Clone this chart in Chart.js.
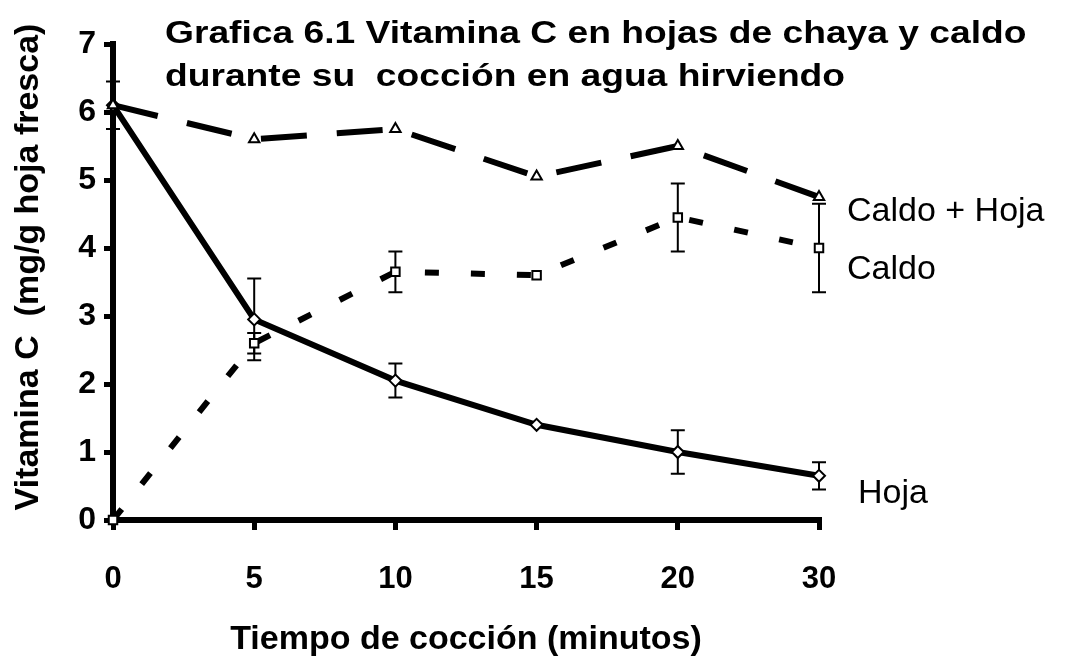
<!DOCTYPE html>
<html>
<head>
<meta charset="utf-8">
<script src="https://cdn.jsdelivr.net/npm/chart.js@4.4.1/dist/chart.umd.min.js"></script>
<style>
  html, body { margin: 0; padding: 0; background: #fff; }
  #wrap { width: 1069px; height: 666px; }
</style>
</head>
<body>
<div id="wrap"><canvas id="chart" width="1069" height="666"></canvas></div>
<script>
// ====== Data ======
const tiempos   = ['0', '5', '10', '15', '20', '30'];
const hoja      = [6.1, 2.95, 2.05, 1.4, 1.0, 0.65];
const hojaErr   = [0.35, 0.6, 0.25, 0, 0.32, 0.2];
const caldo     = [0, 2.6, 3.65, 3.6, 4.45, 4.0];
const caldoErr  = [0, 0.15, 0.3, 0, 0.5, 0.65];
const caldoHoja = [6.1, 5.6, 5.75, 5.05, 5.5, 4.75];
const titulo    = ['Grafica 6.1 Vitamina C en hojas de chaya y caldo', 'durante su  cocción en agua hirviendo'];
const yTitulo   = 'Vitamina C  (mg/g hoja fresca)';

const FONT = '"Liberation Sans", Arial, Helvetica, sans-serif';

// ====== Plugins ======
// error bars, drawn under the markers
const errorBars = {
  id: 'errorBars',
  beforeDatasetsDraw(chart){
    const ctx = chart.ctx, y = chart.scales.y;
    chart.data.datasets.forEach((ds, i) => {
      if(!ds.err) return;
      const meta = chart.getDatasetMeta(i);
      ds.err.forEach((e, j) => {
        if(!e) return;
        const px = meta.data[j].x;
        const top = y.getPixelForValue(ds.data[j] + e);
        const bot = y.getPixelForValue(ds.data[j] - e);
        ctx.save();
        ctx.strokeStyle = '#000'; ctx.lineWidth = 2;
        ctx.beginPath();
        ctx.moveTo(px, top); ctx.lineTo(px, bot);
        ctx.moveTo(px - 7, top); ctx.lineTo(px + 7, top);
        ctx.moveTo(px - 7, bot); ctx.lineTo(px + 7, bot);
        ctx.stroke();
        ctx.restore();
      });
    });
  }
};

// series names next to the last point
const endLabels = {
  id: 'endLabels',
  afterDatasetsDraw(chart){
    const ctx = chart.ctx;
    ctx.save();
    ctx.font = '34px ' + FONT;
    ctx.fillStyle = '#000';
    ctx.textBaseline = 'middle';
    chart.data.datasets.forEach((ds, i) => {
      const pts = chart.getDatasetMeta(i).data;
      const last = pts[pts.length - 1];
      ctx.fillText(ds.label, last.x + ds.labelOffset[0], last.y + ds.labelOffset[1]);
    });
    ctx.restore();
  }
};

// scanned title is wide, so stretch it a bit sideways
const titles = {
  id: 'titles',
  afterDraw(chart){
    const ctx = chart.ctx;
    ctx.save();
    ctx.fillStyle = '#000';
    ctx.font = 'bold 31px ' + FONT;
    titulo.forEach((t, i) => {
      ctx.save();
      ctx.translate(165, 43 + i * 43);
      ctx.scale(1.2, 1);
      ctx.fillText(t, 0, 0);
      ctx.restore();
    });
    // y axis title
    ctx.font = 'bold 34px ' + FONT;
    ctx.translate(38, 267);
    ctx.rotate(-Math.PI / 2);
    ctx.textAlign = 'center';
    ctx.fillText(yTitulo, 0, 0);
    ctx.restore();
  }
};

// ====== Chart ======
const axisGrid = { display: true, drawOnChartArea: false, drawTicks: true, lineWidth: 5, color: '#000' };

new Chart(document.getElementById('chart'), {
  type: 'line',
  data: {
    labels: tiempos,
    datasets: [
      { label: 'Caldo + Hoja', data: caldoHoja, labelOffset: [28, 15],
        borderColor: '#000', borderWidth: 6, borderDash: [46, 30],
        pointStyle: 'triangle', pointRadius: 6, pointBorderWidth: 2,
        pointBackgroundColor: '#fff', pointBorderColor: '#000', clip: false },
      { label: 'Caldo', data: caldo, err: caldoErr, labelOffset: [28, 22],
        borderColor: '#000', borderWidth: 6, borderDash: [14, 32],
        pointStyle: 'rect', pointRadius: 6, pointBorderWidth: 2,
        pointBackgroundColor: '#fff', pointBorderColor: '#000', clip: false },
      { label: 'Hoja', data: hoja, err: hojaErr, labelOffset: [39, 18],
        borderColor: '#000', borderWidth: 6,
        pointStyle: 'rectRot', pointRadius: 6, pointBorderWidth: 2,
        pointBackgroundColor: '#fff', pointBorderColor: '#000', clip: false }
    ]
  },
  options: {
    responsive: false,
    animation: false,
    devicePixelRatio: 1,
    layout: { padding: { top: 44, right: 250, left: 0, bottom: 0 } },
    plugins: { legend: { display: false }, tooltip: { enabled: false } },
    scales: {
      x: {
        offset: false,
        grid: { ...axisGrid, tickLength: 10 },
        border: { display: true, width: 6, color: '#000' },
        ticks: { color: '#000', padding: 31, font: { family: FONT, size: 31, weight: 'bold' } },
        title: { display: true, text: 'Tiempo de cocción (minutos)', color: '#000',
                 font: { family: FONT, size: 34, weight: 'bold' }, padding: { top: 0, bottom: 6 } },
        afterFit: s => { s.height = 146; }
      },
      y: {
        min: 0, max: 7,
        grid: { ...axisGrid, tickLength: 9 },
        border: { display: true, width: 6, color: '#000' },
        ticks: { stepSize: 1, color: '#000', padding: 8, font: { family: FONT, size: 32, weight: 'bold' } },
        afterFit: s => { s.width = 113; }
      }
    }
  },
  plugins: [errorBars, endLabels, titles]
});
</script>
</body>
</html>
